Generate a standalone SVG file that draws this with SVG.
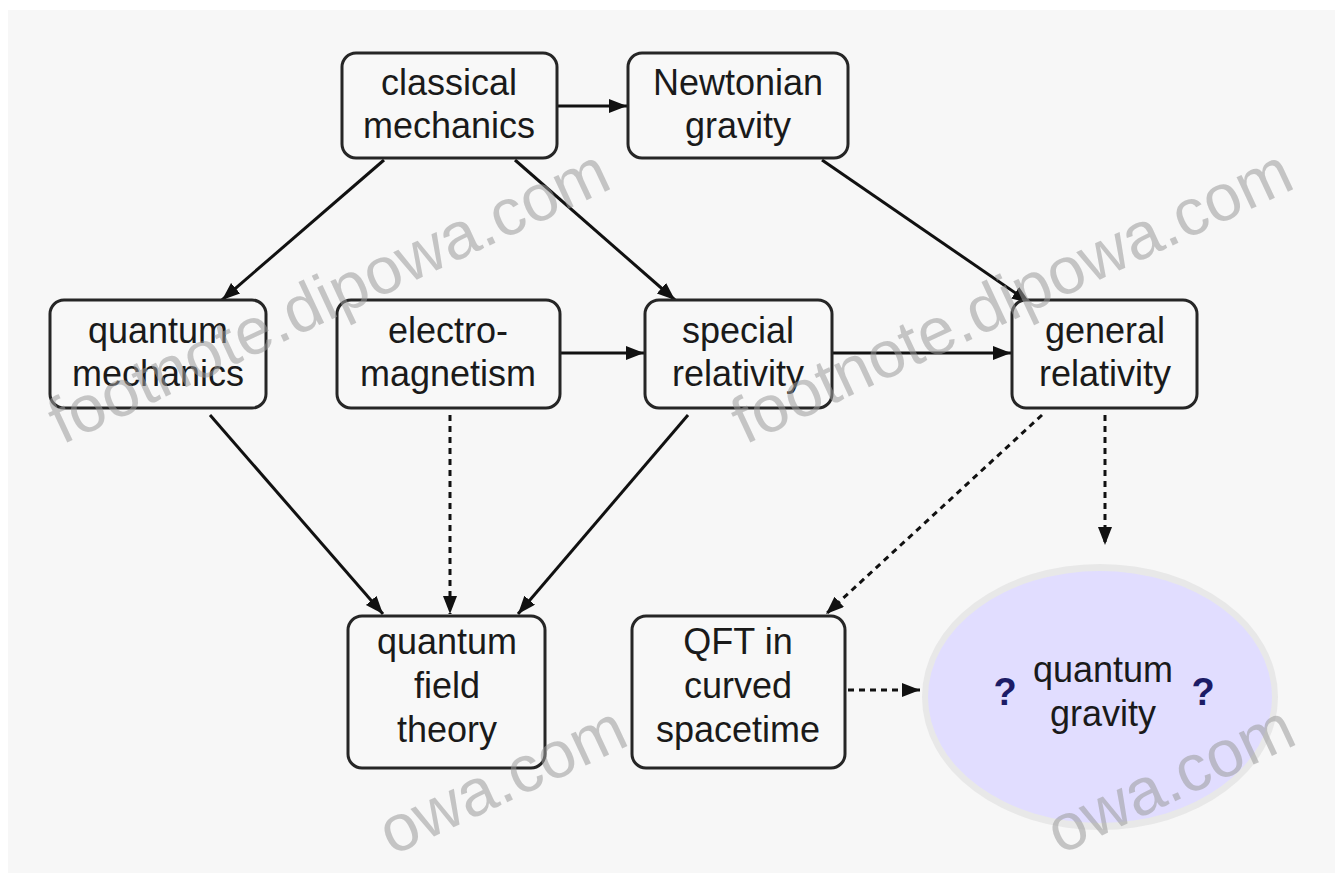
<svg xmlns="http://www.w3.org/2000/svg" width="1335" height="873" viewBox="0 0 1335 873">
  <style>
    .box { fill: #f8f8f8; stroke: #262626; stroke-width: 3; }
    .lbl { font-family: "Liberation Sans", Arial, sans-serif; font-size: 36px; fill: #1a1a1a; text-anchor: middle; }
    .q { font-family: "Liberation Sans", Arial, sans-serif; font-size: 38px; font-weight: bold; fill: #1c1c66; text-anchor: middle; }
    .edge { fill: none; stroke: #111; stroke-width: 3; }
    .dash { stroke-dasharray: 6 5; }
    .wm { font-family: "Liberation Sans", Arial, sans-serif; font-size: 66px; fill: #9a9a9a; fill-opacity: 0.55; }
  </style>
  <defs>
    <marker id="arrow" markerUnits="userSpaceOnUse" markerWidth="20" markerHeight="16" refX="18" refY="7" orient="auto">
      <path d="M0,0 L18,7 L0,14 z" fill="#111"/>
    </marker>
  </defs>

  <rect x="0" y="0" width="1335" height="873" fill="#ffffff"/>
  <rect x="8" y="10" width="1327" height="863" fill="#f7f7f7"/>

  <g id="connectors">
    <path class="edge" d="M557,106 L627,106" marker-end="url(#arrow)"/>
    <path class="edge" d="M384,160 L222,300" marker-end="url(#arrow)"/>
    <path class="edge" d="M515,160 L675,300" marker-end="url(#arrow)"/>
    <path class="edge" d="M822,160 L1030,303" marker-end="url(#arrow)"/>
    <path class="edge" d="M560,353 L644,353" marker-end="url(#arrow)"/>
    <path class="edge" d="M832,353 L1011,353" marker-end="url(#arrow)"/>
    <path class="edge" d="M210,415 L383,614" marker-end="url(#arrow)"/>
    <path class="edge dash" d="M450,415 L450,614" marker-end="url(#arrow)"/>
    <path class="edge" d="M688,415 L518,614" marker-end="url(#arrow)"/>
    <path class="edge dash" d="M1042,415 L826,614" marker-end="url(#arrow)"/>
    <path class="edge dash" d="M1105,415 L1105,545" marker-end="url(#arrow)"/>
    <path class="edge dash" d="M848,690 L920,690" marker-end="url(#arrow)"/>
  </g>

  <g id="classical-mechanics">
    <rect class="box" x="342" y="53" width="215" height="105" rx="14"/>
    <text class="lbl" x="449" y="95">classical</text>
    <text class="lbl" x="449" y="138">mechanics</text>
  </g>
  <g id="newtonian-gravity">
    <rect class="box" x="628" y="53" width="220" height="105" rx="14"/>
    <text class="lbl" x="738" y="95">Newtonian</text>
    <text class="lbl" x="738" y="138">gravity</text>
  </g>
  <g id="quantum-mechanics">
    <rect class="box" x="50" y="300" width="216" height="108" rx="14"/>
    <text class="lbl" x="158" y="343">quantum</text>
    <text class="lbl" x="158" y="386">mechanics</text>
  </g>
  <g id="electromagnetism">
    <rect class="box" x="337" y="300" width="223" height="108" rx="14"/>
    <text class="lbl" x="448" y="343">electro-</text>
    <text class="lbl" x="448" y="386">magnetism</text>
  </g>
  <g id="special-relativity">
    <rect class="box" x="645" y="300" width="187" height="108" rx="14"/>
    <text class="lbl" x="738" y="343">special</text>
    <text class="lbl" x="738" y="386">relativity</text>
  </g>
  <g id="general-relativity">
    <rect class="box" x="1012" y="300" width="185" height="108" rx="14"/>
    <text class="lbl" x="1105" y="343">general</text>
    <text class="lbl" x="1105" y="386">relativity</text>
  </g>
  <g id="quantum-field-theory">
    <rect class="box" x="348" y="616" width="197" height="152" rx="14"/>
    <text class="lbl" x="447" y="654">quantum</text>
    <text class="lbl" x="447" y="698">field</text>
    <text class="lbl" x="447" y="742">theory</text>
  </g>
  <g id="qft-curved-spacetime">
    <rect class="box" x="632" y="616" width="213" height="152" rx="14"/>
    <text class="lbl" x="738" y="654">QFT in</text>
    <text class="lbl" x="738" y="698">curved</text>
    <text class="lbl" x="738" y="742">spacetime</text>
  </g>
  <g id="quantum-gravity">
    <ellipse cx="1100" cy="697" rx="178" ry="133" fill="#e8e8e8"/>
    <ellipse cx="1100" cy="697" rx="172" ry="126" fill="#e1ddff"/>
    <text class="lbl" x="1103" y="682">quantum</text>
    <text class="lbl" x="1103" y="726">gravity</text>
    <text class="q" x="1005" y="705">?</text>
    <text class="q" x="1203" y="705">?</text>
  </g>

  <g id="watermarks">
    <text class="wm" transform="translate(62,445) rotate(-25)">footnote.dipowa.com</text>
    <text class="wm" transform="translate(745,445) rotate(-25)">footnote.dipowa.com</text>
    <text class="wm" transform="translate(392,856) rotate(-25)">owa.com</text>
    <text class="wm" transform="translate(1060,855) rotate(-25)">owa.com</text>
  </g>
</svg>
